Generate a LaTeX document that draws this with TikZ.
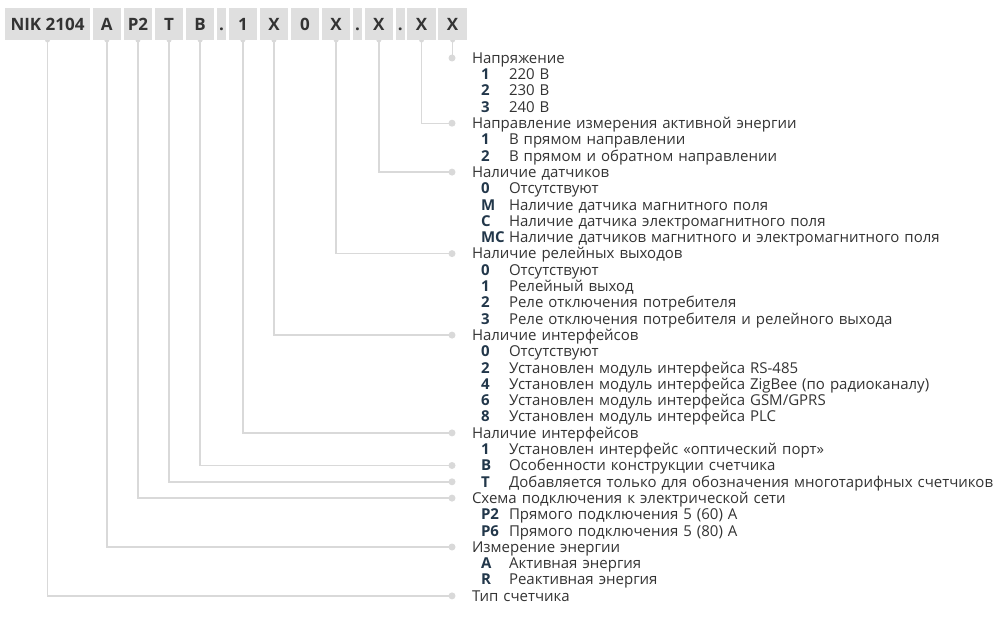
\documentclass[tikz,border=0pt]{standalone}
\usepackage{fontspec}
\setmainfont{Open Sans}
\usetikzlibrary{positioning,chains,backgrounds}
\definecolor{boxgray}{HTML}{DFDFDF}
\definecolor{linegray}{HTML}{D9D9D9}
\definecolor{txtgray}{HTML}{333333}
\definecolor{keyblue}{HTML}{22374A}
\newcommand{\rowhead}[1]{\hspace*{20pt}#1}
\newcommand{\rowkey}[2]{\hspace*{29pt}\makebox[28pt][l]{\textbf{\color{keyblue}#1}}#2}
\tikzset{
	code/.style={
		rectangle,
		fill=boxgray,
		text=txtgray,
		font=\fontsize{17}{17}\selectfont\bfseries,
		text height=12.2pt, text depth=0pt,
		minimum width=28.5pt,
		minimum height=32pt,
		inner xsep=2pt, inner ysep=0pt,
		outer sep=0pt,
		on chain},
	sepbox/.style={code, minimum width=9pt, inner xsep=0pt},
	row/.style={
		rectangle,
		inner sep=0pt, outer sep=0pt,
		text width=700pt, align=left,
		text height=13.3pt, text depth=2.6pt,
		minimum height=16.3pt,
		font=\fontsize{15}{16}\selectfont,
		text=txtgray,
		on chain},
	conn/.style={draw=linegray, line width=1.4pt},
	enddot/.style={circle, fill=linegray, inner sep=0pt, minimum size=7pt},
	topdot/.style={circle, fill=linegray, inner sep=0pt, minimum size=5pt},
}
\begin{document}
\begin{tikzpicture}
\useasboundingbox (0pt,0pt) rectangle (1004pt,-616pt);
% code boxes
\begin{scope}[start chain=codes going right, node distance=2.6pt]
\node[code, minimum width=85pt, at={(5pt,-24pt)}, anchor=west] (bNIK) {NIK 2104};
\node[code] (bA) {A};
\node[code] (bP) {P2};
\node[code] (bT) {T};
\node[code] (bB) {B};
\node[sepbox] (s1) {.};
\node[code] (b1) {1};
\node[code] (bX1) {X};
\node[code] (b0) {0};
\node[code] (bX2) {X};
\node[sepbox] (s2) {.};
\node[code] (bX3) {X};
\node[sepbox] (s3) {.};
\node[code] (bX4) {X};
\node[code] (bX5) {X};
\end{scope}
% legend rows
\begin{scope}[start chain=rows going below, node distance=0pt]
\node[row, at={(452pt,-58pt)}, anchor=west] (hU) {\rowhead{Напряжение}};
\node[row] (u1) {\rowkey{1}{220 В}};
\node[row] (u2) {\rowkey{2}{230 В}};
\node[row] (u3) {\rowkey{3}{240 В}};
\node[row] (hN) {\rowhead{Направление измерения активной энергии}};
\node[row] (n1) {\rowkey{1}{В прямом направлении}};
\node[row] (n2) {\rowkey{2}{В прямом и обратном направлении}};
\node[row] (hD) {\rowhead{Наличие датчиков}};
\node[row] (d0) {\rowkey{0}{Отсутствуют}};
\node[row] (dM) {\rowkey{M}{Наличие датчика магнитного поля}};
\node[row] (dC) {\rowkey{C}{Наличие датчика электромагнитного поля}};
\node[row] (dMC) {\rowkey{MC}{Наличие датчиков магнитного и электромагнитного поля}};
\node[row] (hR) {\rowhead{Наличие релейных выходов}};
\node[row] (r0) {\rowkey{0}{Отсутствуют}};
\node[row] (r1) {\rowkey{1}{Релейный выход}};
\node[row] (r2) {\rowkey{2}{Реле отключения потребителя}};
\node[row] (r3) {\rowkey{3}{Реле отключения потребителя и релейного выхода}};
\node[row] (hI) {\rowhead{Наличие интерфейсов}};
\node[row] (i0) {\rowkey{0}{Отсутствуют}};
\node[row] (i2) {\rowkey{2}{Установлен модуль интерфейса RS-485}};
\node[row] (i4) {\rowkey{4}{Установлен модуль интерфейса ZigBee (по радиоканалу)}};
\node[row] (i6) {\rowkey{6}{Установлен модуль интерфейса GSM/GPRS}};
\node[row] (i8) {\rowkey{8}{Установлен модуль интерфейса PLC}};
\node[row] (hO) {\rowhead{Наличие интерфейсов}};
\node[row] (o1) {\rowkey{1}{Установлен интерфейс «оптический порт»}};
\node[row] (oB) {\rowkey{B}{Особенности конструкции счетчика}};
\node[row] (oT) {\rowkey{T}{Добавляется только для обозначения многотарифных счетчиков}};
\node[row] (hS) {\rowhead{Схема подключения к электрической сети}};
\node[row] (sP2) {\rowkey{P2}{Прямого подключения 5 (60) А}};
\node[row] (sP6) {\rowkey{P6}{Прямого подключения 5 (80) А}};
\node[row] (hE) {\rowhead{Измерение энергии}};
\node[row] (eA) {\rowkey{A}{Активная энергия}};
\node[row] (eR) {\rowkey{R}{Реактивная энергия}};
\node[row] (hT) {\rowhead{Тип счетчика}};
\end{scope}
% connectors
\begin{scope}[on background layer]
\draw[conn] (bX5.south) node[topdot]{} |- (hU.west) node[enddot]{};
\draw[conn] (bX4.south) node[topdot]{} |- (hN.west) node[enddot]{};
\draw[conn] (bX3.south) node[topdot]{} |- (hD.west) node[enddot]{};
\draw[conn] (bX2.south) node[topdot]{} |- (hR.west) node[enddot]{};
\draw[conn] (bX1.south) node[topdot]{} |- (hI.west) node[enddot]{};
\draw[conn] (b1.south) node[topdot]{} |- (hO.west) node[enddot]{};
\draw[conn] (bB.south) node[topdot]{} |- (oB.west) node[enddot]{};
\draw[conn] (bT.south) node[topdot]{} |- (oT.west) node[enddot]{};
\draw[conn] (bP.south) node[topdot]{} |- (hS.west) node[enddot]{};
\draw[conn] (bA.south) node[topdot]{} |- (hE.west) node[enddot]{};
\draw[conn] (bNIK.south) node[topdot]{} |- (hT.west) node[enddot]{};
\end{scope}
\end{tikzpicture}
\end{document}
